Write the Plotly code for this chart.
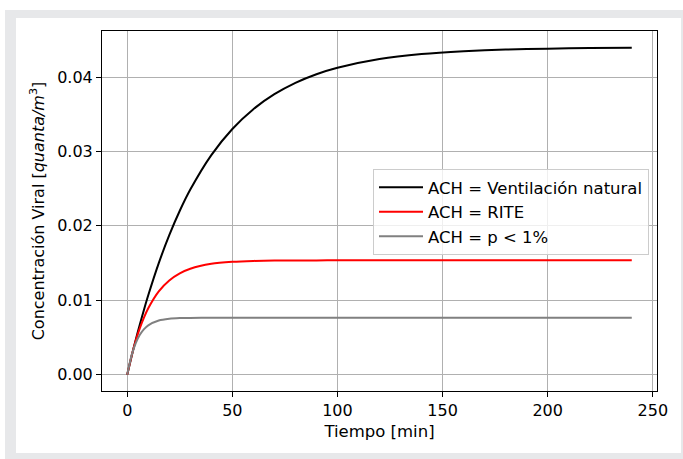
import plotly.graph_objects as go

# Time samples [min]
tiempo = [0, 2, 4, 6, 8, 10, 15, 20, 25, 30, 40, 50, 60, 70, 80, 90, 100,
          120, 140, 160, 180, 200, 220, 240]

# Viral concentration [quanta/m3]
ach_natural = [0.0, 0.00238, 0.00463, 0.00675, 0.00877, 0.01067, 0.01499, 0.01875,
               0.02203, 0.02488, 0.02952, 0.03303, 0.03569, 0.03770, 0.03923, 0.04039,
               0.04126, 0.04243, 0.04310, 0.04348, 0.04370, 0.04383, 0.04390, 0.04394]
ach_rite = [0.0, 0.00245, 0.00452, 0.00625, 0.00771, 0.00893, 0.01120, 0.01267,
            0.01362, 0.01424, 0.01490, 0.01517, 0.01529, 0.01533, 0.01535, 0.01536,
            0.01537, 0.01537, 0.01537, 0.01537, 0.01537, 0.01537, 0.01537, 0.01537]
ach_p1 = [0.0, 0.00252, 0.00421, 0.00535, 0.00611, 0.00662, 0.00727, 0.00751,
          0.00760, 0.00763, 0.00765, 0.00765, 0.00765, 0.00765, 0.00765, 0.00765,
          0.00765, 0.00765, 0.00765, 0.00765, 0.00765, 0.00765, 0.00765, 0.00765]

series_names = ["ACH = Ventilación natural", "ACH = RITE", "ACH = p < 1%"]
series_colors = ["#000000", "#ff0000", "#808080"]

W, H = 683, 459
L, R, T, B = 102, 657, 31, 391  # plot area in pixels

fig = go.Figure()
for name, vals, col in zip(series_names, [ach_natural, ach_rite, ach_p1], series_colors):
    fig.add_trace(go.Scatter(x=tiempo, y=vals, mode="lines", name=name,
                             line=dict(color=col, width=2, shape="spline", smoothing=0.6)))

def px2paper_x(px):
    return (px - L) / (R - L)

def px2paper_y(py):
    return (B - py) / (B - T)

frame_color = "rgb(231,232,234)"
strips = [(5, 683, 10, 18), (5, 16, 10, 459), (681, 683, 10, 459), (5, 683, 453, 459)]
shapes = []
for x0, x1, y0, y1 in strips:
    shapes.append(dict(type="rect", xref="paper", yref="paper",
                       x0=px2paper_x(x0), x1=px2paper_x(x1),
                       y0=px2paper_y(y1), y1=px2paper_y(y0),
                       fillcolor=frame_color, line=dict(width=0), layer="below"))

font = "DejaVu Sans"
axis_common = dict(showline=True, linecolor="black", linewidth=1, mirror=True,
                   ticks="outside", ticklen=5, tickwidth=1, tickcolor="black",
                   showgrid=True, gridcolor="#b0b0b0", gridwidth=1, zeroline=False,
                   tickfont=dict(family=font, size=16, color="black"))

fig.update_layout(
    width=W, height=H,
    margin=dict(l=L, r=W - R, t=T, b=H - B, autoexpand=False),
    paper_bgcolor="white", plot_bgcolor="white",
    font=dict(family=font, size=16, color="black"),
    shapes=shapes,
    xaxis=dict(range=[-12, 252], tickvals=[0, 50, 100, 150, 200, 250],
               title=dict(text="Tiempo [min]", standoff=6,
                          font=dict(family=font, size=16.5, color="black")),
               **axis_common),
    yaxis=dict(range=[-0.0022, 0.0462], tickvals=[0, 0.01, 0.02, 0.03, 0.04],
               tickformat=".2f",
               title=dict(text="Concentración Viral [<i>quanta/m</i><sup>3</sup>]", standoff=8,
                          font=dict(family=font, size=16, color="black")),
               **axis_common),
    legend=dict(x=px2paper_x(649), y=px2paper_y(169), xanchor="right", yanchor="top",
                bgcolor="rgba(255,255,255,0.8)", bordercolor="#cccccc", borderwidth=1,
                itemwidth=44,
                font=dict(family=font, size=16.5, color="black")),
    showlegend=True,
)

fig.write_html("out.html")
